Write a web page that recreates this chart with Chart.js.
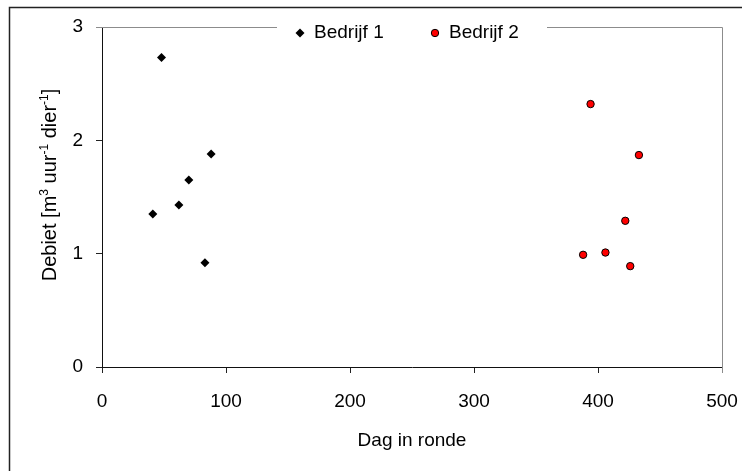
<!DOCTYPE html>
<html>
<head>
<meta charset="utf-8">
<script src="https://cdn.jsdelivr.net/npm/chart.js@4"></script>
<style>
  html, body { margin: 0; padding: 0; background: #fff; }
  #wrap { width: 742px; height: 471px; }
</style>
</head>
<body>
<div id="wrap"><canvas id="myChart" width="742" height="471"></canvas></div>
<script>
// data
const bedrijf1X = [48, 41, 62, 70, 88, 83];
const bedrijf1Y = [2.73, 1.35, 1.43, 1.65, 1.88, 0.92];
const bedrijf2X = [394, 388, 406, 422, 433, 426];
const bedrijf2Y = [2.32, 0.99, 1.01, 1.29, 1.87, 0.89];
const seriesNames = ['Bedrijf 1', 'Bedrijf 2'];
const xTitle = 'Dag in ronde';

const FONT = '"Liberation Sans", Arial, sans-serif';

function toPoints(xs, ys) {
    return xs.map((x, i) => ({ x: x, y: ys[i] }));
}

// frame, titles and legend drawn on top of the canvas
const decorPlugin = {
    id: 'decor',
    beforeDatasetsDraw(chart) {
        const ctx = chart.ctx;
        const a = chart.chartArea;
        ctx.save();
        ctx.strokeStyle = '#8c8c8c';
        ctx.lineWidth = 1;
        ctx.beginPath();
        ctx.moveTo(Math.round(a.left) - 6, Math.round(a.top) + 0.5);
        ctx.lineTo(Math.round(a.right) + 0.5, Math.round(a.top) + 0.5);
        ctx.lineTo(Math.round(a.right) + 0.5, Math.round(a.bottom) + 6);
        ctx.stroke();
        ctx.restore();
    },
    afterDraw(chart) {
        const ctx = chart.ctx;
        const a = chart.chartArea;
        ctx.save();

        // outer border
        ctx.strokeStyle = '#222';
        ctx.lineWidth = 1.5;
        ctx.beginPath();
        ctx.moveTo(9.5, 471);
        ctx.lineTo(9.5, 7.5);
        ctx.lineTo(742, 7.5);
        ctx.stroke();

        // legend
        ctx.fillStyle = '#fff';
        ctx.fillRect(277, 19, 270, 26);
        ctx.fillStyle = '#000';
        ctx.font = '19px ' + FONT;
        ctx.textBaseline = 'middle';
        ctx.textAlign = 'left';
        // diamond
        ctx.beginPath();
        ctx.moveTo(300, 28.5);
        ctx.lineTo(304.5, 33);
        ctx.lineTo(300, 37.5);
        ctx.lineTo(295.5, 33);
        ctx.closePath();
        ctx.fill();
        ctx.fillText(seriesNames[0], 314, 33);
        // circle
        ctx.beginPath();
        ctx.arc(435, 33, 3.7, 0, Math.PI * 2);
        ctx.fillStyle = '#ff0000';
        ctx.fill();
        ctx.strokeStyle = '#000';
        ctx.lineWidth = 1;
        ctx.stroke();
        ctx.fillStyle = '#000';
        ctx.fillText(seriesNames[1], 449, 33);

        // x title
        ctx.textAlign = 'center';
        ctx.fillText(xTitle, (a.left + a.right) / 2, 441);

        // y title with superscripts
        ctx.translate(56, (a.top + a.bottom) / 2 - 12);
        ctx.rotate(-Math.PI / 2);
        ctx.textAlign = 'left';
        ctx.textBaseline = 'alphabetic';
        const parts = [
            ['Debiet [m', false], ['3', true], [' uur', false], ['-1', true],
            [' dier', false], ['-1', true], [']', false]
        ];
        const big = '20px ' + FONT, small = '12px ' + FONT;
        let total = 0;
        parts.forEach(p => { ctx.font = p[1] ? small : big; total += ctx.measureText(p[0]).width; });
        let x = -total / 2;
        parts.forEach(p => {
            ctx.font = p[1] ? small : big;
            ctx.fillText(p[0], x, p[1] ? -8 : 0);
            x += ctx.measureText(p[0]).width;
        });
        ctx.restore();
    }
};

const ctx = document.getElementById('myChart').getContext('2d');
new Chart(ctx, {
    type: 'scatter',
    data: {
        datasets: [{
            label: seriesNames[0],
            data: toPoints(bedrijf1X, bedrijf1Y),
            pointStyle: 'rectRot',
            pointRadius: 4.5,
            pointHoverRadius: 4.5,
            backgroundColor: '#000',
            borderColor: '#000',
            borderWidth: 0
        }, {
            label: seriesNames[1],
            data: toPoints(bedrijf2X, bedrijf2Y),
            pointStyle: 'circle',
            pointRadius: 3.7,
            pointHoverRadius: 3.7,
            backgroundColor: '#ff0000',
            borderColor: '#000',
            borderWidth: 1
        }]
    },
    options: {
        responsive: false,
        animation: false,
        events: [],
        layout: { padding: { left: 0, right: 20, top: 27, bottom: 0 } },
        plugins: {
            legend: { display: false },
            tooltip: { enabled: false }
        },
        scales: {
            x: {
                type: 'linear',
                min: 0,
                max: 500,
                ticks: { stepSize: 100, color: '#000', padding: 17, font: { family: FONT, size: 19 }, maxRotation: 0 },
                grid: { drawOnChartArea: false, drawTicks: true, tickLength: 6, color: '#000', tickColor: '#222' },
                border: { display: true, color: '#111', width: 1 },
                afterFit(scale) { scale.height = 104; scale.paddingRight = 0; scale.paddingLeft = 0; }
            },
            y: {
                min: 0,
                max: 3,
                ticks: { stepSize: 1, color: '#000', padding: 13, font: { family: FONT, size: 19 } },
                grid: { drawOnChartArea: false, drawTicks: true, tickLength: 6, color: '#000', tickColor: '#222' },
                border: { display: true, color: '#111', width: 1 },
                afterFit(scale) { scale.width = 102; scale.paddingTop = 0; scale.paddingBottom = 0; }
            }
        }
    },
    plugins: [decorPlugin]
});
</script>
</body>
</html>
